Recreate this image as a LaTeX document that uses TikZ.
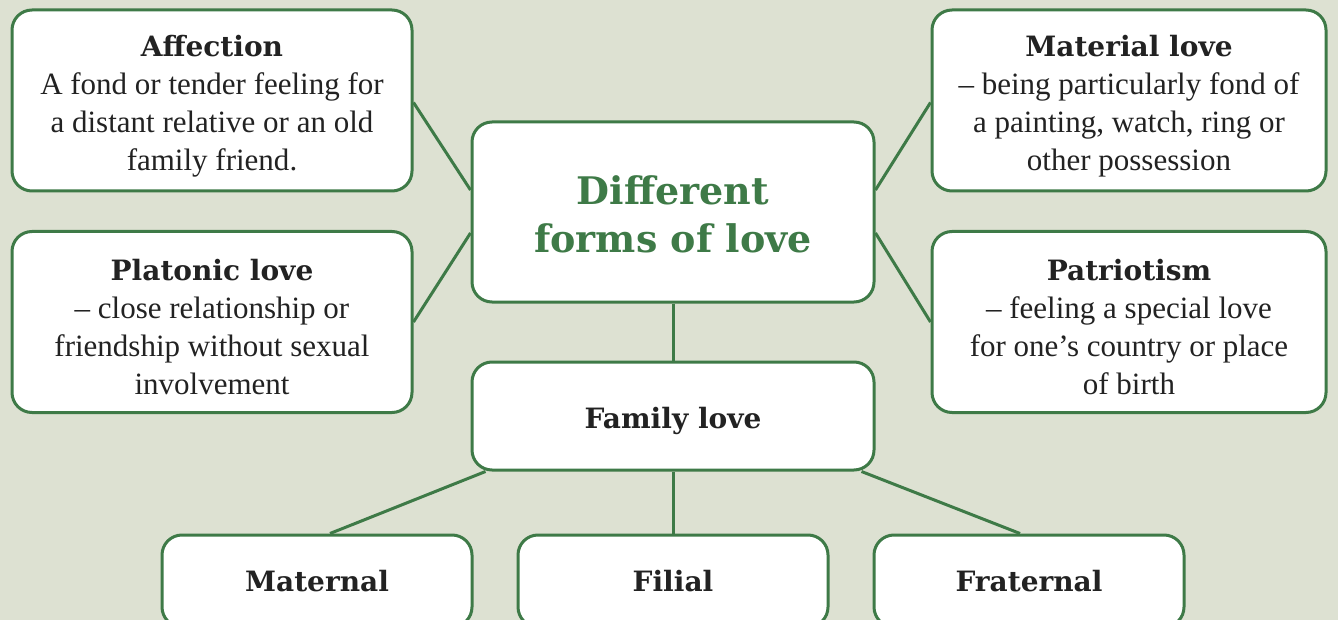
\documentclass[tikz,border=0pt]{standalone}
\usepackage{fontspec}
\setmainfont{Liberation Serif}
\newfontfamily\headfont{DejaVu Serif}
\definecolor{sage}{HTML}{DDE1D2}
\definecolor{leaf}{HTML}{3E7A47}
\definecolor{ink}{HTML}{222222}
\newcommand{\hd}[1]{{\headfont\bfseries\fontsize{28}{38}\selectfont #1}}
\newcommand{\lifthd}[1]{\rule{0pt}{32pt}\hd{#1}}
\begin{document}
\begin{tikzpicture}[
    x=1pt, y=-1pt,
    card/.style = {draw=leaf, line width=3pt, fill=white, rounded corners=20pt,
                   inner sep=0pt, align=center, text=ink,
                   font=\fontsize{31}{38}\selectfont},
    side/.style = {card, minimum width=400pt, minimum height=181pt},
    kin/.style = {card, minimum width=310pt, minimum height=92pt},
    link/.style = {draw=leaf, line width=3pt}
  ]
  \fill[sage] (0,0) rectangle (1338,620);
  \clip (0,0) rectangle (1338,620);
  % the middle
  \node[card, minimum width=402pt, minimum height=180pt,
        font=\headfont\bfseries\fontsize{38}{48}\selectfont, text=leaf] (ctr) at (673,212)
        {\rule{0pt}{33pt}Different\\forms of love};
  % left and right
  \node[side] (aff) at (212,100.5)
        {\lifthd{Affection}\\A fond or tender feeling for\\a distant relative or an old\\family friend.};
  \node[side] (plat) at (212,322)
        {\lifthd{Platonic love}\\– close relationship or\\friendship without sexual\\involvement};
  \node[side, minimum width=394pt] (matl) at (1129,100.5)
        {\lifthd{Material love}\\– being particularly fond of\\a painting, watch, ring or\\other possession};
  \node[side, minimum width=394pt] (pat) at (1129,322)
        {\lifthd{Patriotism}\\– feeling a special love\\for one's country or place\\of birth};
  % family branch
  \node[card, minimum width=402pt, minimum height=108pt] (fam) at (673,416)
        {\rule{0pt}{31pt}\hd{Family love}};
  \node[kin] (mtr) at (317,581) {\hd{Maternal}};
  \node[kin] (fil) at (673,581) {\hd{Filial}};
  \node[kin] (frt) at (1029,581) {\hd{Fraternal}};
  % connectors
  \draw[link] ([yshift=-2pt]aff.east) -- ([yshift=22pt]ctr.west);
  \draw[link] (plat.east) -- ([yshift=-21pt]ctr.west);
  \draw[link] ([yshift=-2pt]matl.west) -- ([yshift=22pt]ctr.east);
  \draw[link] (pat.west) -- ([yshift=-21pt]ctr.east);
  \draw[link] (ctr.south) -- (fam.north);
  \draw[link] ([xshift=15pt]fam.south west) -- ([xshift=13pt]mtr.north);
  \draw[link] (fam.south) -- (fil.north);
  \draw[link] ([xshift=-14pt]fam.south east) -- ([xshift=-9pt]frt.north);
\end{tikzpicture}
\end{document}
